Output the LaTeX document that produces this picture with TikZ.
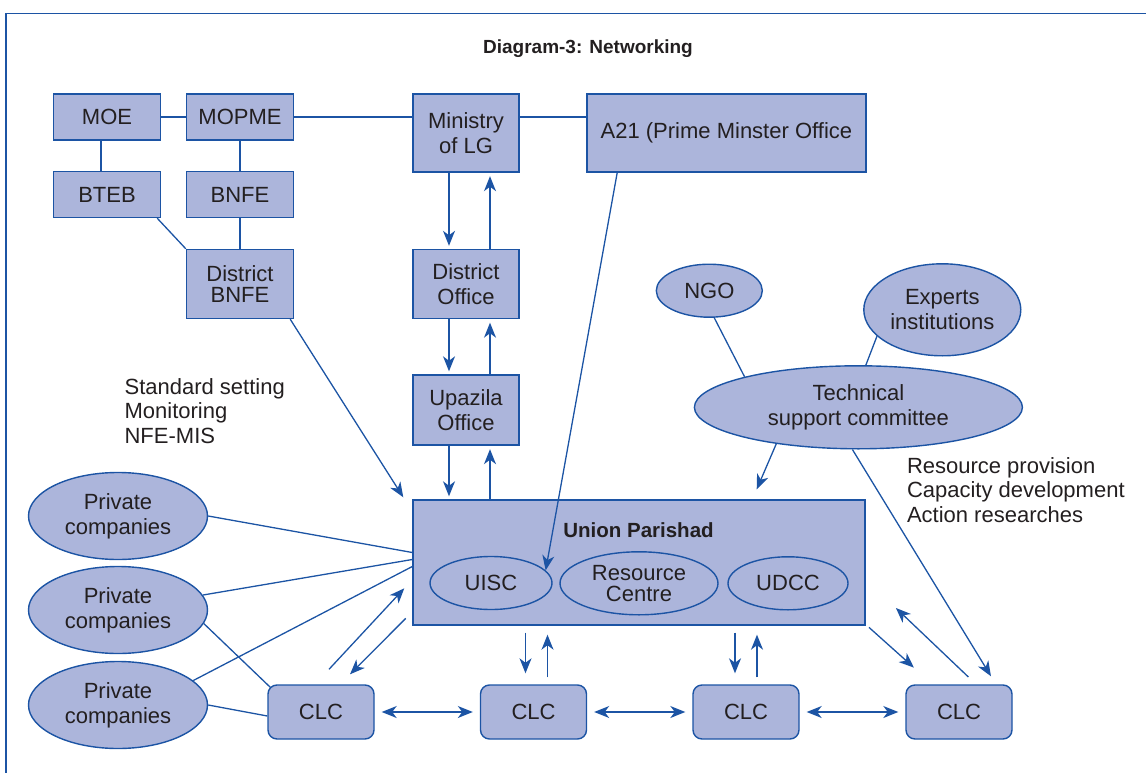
\documentclass[tikz,border=0pt]{standalone}
\usepackage{fontspec}
\setmainfont{Liberation Sans}
\usetikzlibrary{shapes.geometric,arrows.meta,calc}
\definecolor{pfill}{RGB}{172,181,219}
\definecolor{pblue}{RGB}{28,84,164}
\definecolor{ptext}{RGB}{35,31,32}
\tikzset{
  box/.style={draw=pblue,fill=pfill,line width=1.4pt,text=ptext,align=center,
    inner sep=0pt,font=\fontsize{22}{25}\selectfont},
  oval/.style={box,ellipse},
  clcbox/.style={box,rounded corners=9pt,minimum width=106pt,minimum height=54pt},
  link/.style={draw=pblue,line width=1.3pt},
  arr/.style={link,-{Stealth[length=15pt,width=12pt,inset=4.5pt]}},
  dbl/.style={link,{Stealth[length=15pt,width=12pt,inset=4.5pt]}-{Stealth[length=15pt,width=12pt,inset=4.5pt]}},
  note/.style={text=ptext,align=left,anchor=west,inner sep=0pt,font=\fontsize{22}{24.5}\selectfont}
}

\begin{document}
\begin{tikzpicture}[x=1pt,y=-1pt]
  \useasboundingbox (0,0) rectangle (1146,773);
  \draw[pblue,line width=1.5pt] (6,773) -- (6,13.5) -- (1146,13.5);
  \node[text=ptext,font=\bfseries\fontsize{19}{22}\selectfont] (title) at (588,49) {Diagram-3: Networking};

  % ministries
  \node[box,minimum width=107pt,minimum height=46pt] (moe) at (107,117) {MOE};
  \node[box,minimum width=107pt,minimum height=46pt] (mopme) at (240,117) {MOPME};
  \node[box,minimum width=107pt,minimum height=46pt] (bteb) at (107,194.5) {BTEB};
  \node[box,minimum width=107pt,minimum height=46pt] (bnfe) at (240,194.5) {BNFE};
  \node[box,minimum width=107pt,minimum height=69pt,font=\fontsize{22}{21}\selectfont] (dbnfe) at (240,284) {District\\BNFE};
  \node[box,minimum width=106pt,minimum height=78pt] (molg) at (466,133) {Ministry\\of LG};
  \node[box,minimum width=106pt,minimum height=69pt] (dist) at (466,284) {District\\Office};
  \node[box,minimum width=106pt,minimum height=70pt] (upz) at (466,410) {Upazila\\Office};
  \node[box,minimum width=279pt,minimum height=78pt] (pmo) at (726.4,133) {A21 (Prime Minster Office};

  % union parishad
  \node[box,minimum width=452pt,minimum height=125pt] (up) at (639,562.5) {};
  \node[text=ptext,font=\bfseries\fontsize{20.5}{24}\selectfont] (uptitle) at (638.5,530) {Union Parishad};
  \node[oval,minimum width=122pt,minimum height=53pt] (uisc) at (491,583) {UISC};
  \node[oval,minimum width=158pt,minimum height=63pt,font=\fontsize{22}{21}\selectfont] (rc) at (639,583.3) {Resource\\Centre};
  \node[oval,minimum width=120pt,minimum height=53pt] (udcc) at (788,583.3) {UDCC};

  \node[oval,minimum width=179pt,minimum height=87pt] (p1) at (118,516) {Private\\companies};
  \node[oval,minimum width=179pt,minimum height=87pt] (p2) at (118,610) {Private\\companies};
  \node[oval,minimum width=179pt,minimum height=87pt] (p3) at (118,705) {Private\\companies};

  \node[clcbox] (clc1) at (321,712) {CLC};
  \node[clcbox] (clc2) at (533.5,712) {CLC};
  \node[clcbox] (clc3) at (746,712) {CLC};
  \node[clcbox] (clc4) at (959,712) {CLC};

  \node[oval,minimum width=106pt,minimum height=53pt] (ngo) at (709.3,290.7) {NGO};
  \node[oval,minimum width=157pt,minimum height=92pt] (exp) at (942.3,309.8) {Experts\\institutions};
  \node[oval,minimum width=328pt,minimum height=83pt] (tsc) at (858.4,407.3) {Technical\\support committee};

  \node[note] (duties) at (124.4,411) {Standard setting\\Monitoring\\NFE-MIS};
  \node[note] (support) at (906.8,489.8) {Resource provision\\Capacity development\\Action researches};

  % links
  \draw[link] (moe) -- (mopme);
  \draw[link] (mopme.east) -- (mopme.east -| molg.west);
  \draw[link] (molg.east |- mopme.east) -- (pmo.west |- mopme.east);
  \draw[link] ($(moe.south)+(-6,0)$) -- ($(bteb.north)+(-6,0)$);
  \draw[link] (mopme) -- (bnfe);
  \draw[link] (bnfe) -- (dbnfe);
  \draw[link] ($(bteb.south east)+(-4,0)$) -- (dbnfe.north west);

  \foreach \a/\b in {molg/dist,dist/upz,upz/up} {
    \draw[arr] ($(\a.south)+(-17,0)$) -- ($(\a.south |- \b.north)+(-17,-3)$);
    \draw[arr] ($(\a.south |- \b.north)+(24,0)$) -- ($(\a.south)+(24,3.5)$);
  }
  \draw[arr] ($(pmo.south west)+(31,0)$) -- (uisc.13);
  \draw[arr] ($(dbnfe.south east)+(-4,0)$) -- ($(up.north west)+(-9,-2)$);

  \draw[link] (p1.east) -- ($(up.west)+(0,-10)$);
  \draw[link] (p2.10) -- ($(up.west)+(0,-3)$);
  \draw[link] (p3.18) -- ($(up.west)+(0,4)$);
  \draw[link] (p2.-9) -- ($(clc1.north west)+(3,3)$);
  \draw[link] (p3.east) -- ($(clc1.west)+(0,4)$);

  \foreach \a/\b in {clc1/clc2,clc2/clc3,clc3/clc4}
    \draw[dbl] ($(\a.east)+(7,0)$) -- ($(\b.west)+(-7,0)$);

  \foreach \c/\d/\u in {clc2/-8/14,clc3/-11/11} {
    \draw[arr] ($(\c.north |- up.south)+(\d,7)$) -- ($(\c.north)+(\d,-11)$);
    \draw[arr] ($(\c.north)+(\u,-7)$) -- ($(\c.north |- up.south)+(\u,9)$);
  }
  \draw[arr] ($(clc1.north)+(8,-15)$) -- ($(up.west)+(-8,25.8)$);
  \draw[arr] ($(up.south west)+(-6.6,-7.3)$) -- ($(clc1.north)+(29,-10)$);
  \draw[arr] ($(up.south east)+(3.3,1.7)$) -- ($(clc4.north west)+(8.6,-16.7)$);
  \draw[arr] ($(clc4.north)+(9.4,-7.3)$) -- ($(up.south east)+(30.2,-17.7)$);

  \draw[arr] (tsc.204) -- ($(up.north east)+(-109,-10)$);
  \draw[arr] ($(tsc.south)+(-6,0)$) -- ($(clc4.north)+(32,-8)$);
  \draw[link] ($(ngo.south)+(5,0)$) -- (tsc.165);
  \draw[link] (exp.202) -- (tsc.80);
\end{tikzpicture}
\end{document}
